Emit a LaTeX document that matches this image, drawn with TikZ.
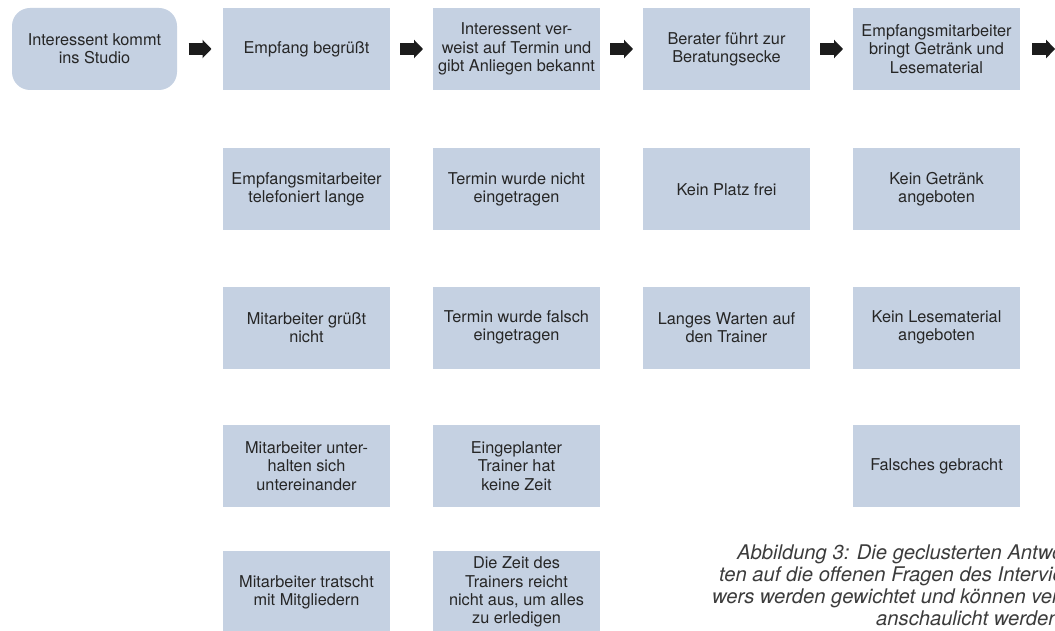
\documentclass[tikz,border=0pt]{standalone}
\usepackage{fontspec}
\setmainfont{TeX Gyre Heros}
\usetikzlibrary{arrows.meta,calc}
\definecolor{boxfill}{HTML}{C5D1E2}
\definecolor{boxtext}{HTML}{262626}
\definecolor{arrowcol}{HTML}{1C1C1C}
\definecolor{captext}{HTML}{3C3C3C}
\tikzset{
  stepbox/.style={rectangle, fill=boxfill, text=boxtext, minimum width=167pt, minimum height=82pt,
    inner sep=0pt, align=center, font=\fontsize{16.3}{18.2}\selectfont},
  startbox/.style={stepbox, minimum width=165pt, rounded corners=18pt},
  flowarrow/.style={draw=arrowcol, line width=12pt, -{Triangle[length=9pt,width=18pt]}},
  captionline/.style={anchor=base west, inner sep=0pt, text=captext,
    font=\fontsize{20.2}{22.3}\selectfont\itshape}
}
\begin{document}
\begin{tikzpicture}[x=1pt,y=-1pt]
\useasboundingbox (0,0) rectangle (1055,631);
\clip (0,0) rectangle (1055,631);
% row 1
\node[startbox] (n0) at (94.5,49) {Interessent kommt\\ins Studio};
\node[stepbox] (n1) at (306.5,49) {Empfang begrüßt};
\node[stepbox] (n2) at (516.5,49) {Interessent ver-\\weist auf Termin und\\gibt Anliegen bekannt};
\node[stepbox] (n3) at (726.5,49) {Berater führt zur\\Beratungsecke};
\node[stepbox] (n4) at (936.5,49) {Empfangsmitarbeiter\\bringt Getränk und\\Lesematerial};
\coordinate (n5) at (1067,49);
% arrows
\foreach \a/\b in {n0.east/n1.west,n1.east/n2.west,n2.east/n3.west,n3.east/n4.west,n4.east/n5}{
  \draw[flowarrow] ($(\a)!0.5!(\b)+(-11.5,0)$) -- ($(\a)!0.5!(\b)+(11.5,0)$);
}
% row 2
\node[stepbox] (a1) at (306.5,189.5) {Empfangsmitarbeiter\\telefoniert lange};
\node[stepbox] (b1) at (516.5,189.5) {Termin wurde nicht\\eingetragen};
\node[stepbox] (c1) at (726.5,189.5) {Kein Platz frei};
\node[stepbox] (d1) at (936.5,189.5) {Kein Getränk\\angeboten};
% row 3
\node[stepbox] (a2) at (306.5,327.5) {Mitarbeiter grüßt\\nicht};
\node[stepbox] (b2) at (516.5,327.5) {Termin wurde falsch\\eingetragen};
\node[stepbox] (c2) at (726.5,327.5) {Langes Warten auf\\den Trainer};
\node[stepbox] (d2) at (936.5,327.5) {Kein Lesematerial\\angeboten};
% row 4
\node[stepbox] (a3) at (306.5,466) {Mitarbeiter unter-\\halten sich\\untereinander};
\node[stepbox] (b3) at (516.5,466) {Eingeplanter\\Trainer hat\\keine Zeit};
\node[stepbox] (d3) at (936.5,466) {Falsches gebracht};
% row 5
\node[stepbox] (a4) at (306.5,592) {Mitarbeiter tratscht\\mit Mitgliedern};
\node[stepbox] (b4) at (516.5,592) {Die Zeit des\\Trainers reicht\\nicht aus, um alles\\zu erledigen};
% caption
\node[captionline] (cap1) at (737,559) {Abbildung 3: Die geclusterten Antwor-};
\node[captionline] (cap2) at (719,581) {ten auf die offenen Fragen des Intervie-};
\node[captionline] (cap3) at (712,603) {wers werden gewichtet und können ver-};
\node[captionline] (cap4) at (876,625) {anschaulicht werden.};
\end{tikzpicture}
\end{document}
